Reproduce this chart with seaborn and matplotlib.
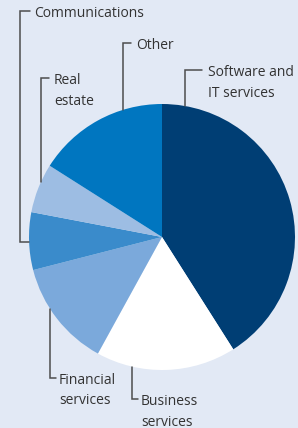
import numpy as np
import pandas as pd
import matplotlib.pyplot as plt
import seaborn as sns

# sector shares (%), clockwise from 12 o'clock
sectors = ["Software and\nIT services", "Business\nservices", "Financial\nservices",
           "Communications", "Real\nestate", "Other"]
shares = [41, 17, 13, 7, 6, 16]
colors = ["#003e74", "#ffffff", "#7ba9db", "#3a8bcb", "#9dbde3", "#0076c0"]

bg = "#e2e9f5"
ink = "#333333"
line_c = "#4d4d4d"

sns.set_style("white")
plt.rcParams['font.family'] = ['Open Sans', 'DejaVu Sans']

W, H = 298, 428
fig = plt.figure(figsize=(W / 100, H / 100), dpi=100, facecolor=bg)
ax = fig.add_axes([0, 0, 1, 1])
ax.set_facecolor(bg)

cx, cy, r = 162, H - 237, 133
pal = sns.color_palette(colors)
ax.pie(shares, colors=pal, startangle=90, counterclock=False,
       center=(cx, cy), radius=r, wedgeprops=dict(linewidth=0), frame=True)
ax.set_xlim(0, W)
ax.set_ylim(0, H)
ax.set_aspect("equal")
ax.axis("off")


def edge_y(x, top=True):
    d = np.sqrt(r ** 2 - (x - cx) ** 2)
    return cy + d if top else cy - d


def py(y):
    return H - y


lw = 1.1
fs = 10
off = 5

# labels above the pie: vertical from tick down to pie edge
# (label, x of vertical, y of tick, x tick end, text x)
top_calls = [
    (0, 185, 70, 202, 208),
    (5, 123, 43, 131, 136),
    (4, 41, 78, 49, 54),
]
for i, xv, yt, xe, xt in top_calls:
    ax.plot([xe, xv, xv], [py(yt), py(yt), edge_y(xv)], color=line_c, lw=lw,
            solid_joinstyle="miter")
    ax.text(xt, py(yt) + off, sectors[i], ha="left", va="top", fontsize=fs,
            color=ink, linespacing=1.5)

# communications: runs down the left side and into the pie
ax.plot([30, 20, 20, cx - np.sqrt(r ** 2 - (py(242) - cy) ** 2)],
        [py(11), py(11), py(242), py(242)], color=line_c, lw=lw,
        solid_joinstyle="miter")
ax.text(34, py(11) + off, sectors[3], ha="left", va="top", fontsize=fs,
        color=ink)

# labels below the pie
bot_calls = [
    (2, 50, 378, 56, 59),
    (1, 132, 399, 138, 141),
]
for i, xv, yt, xe, xt in bot_calls:
    ax.plot([xv, xv, xe], [edge_y(xv, top=False), py(yt), py(yt)],
            color=line_c, lw=lw, solid_joinstyle="miter")
    ax.text(xt, py(yt) + off, sectors[i], ha="left", va="top", fontsize=fs,
            color=ink, linespacing=1.5)

fig.savefig("out.png", dpi=100, facecolor=bg)
